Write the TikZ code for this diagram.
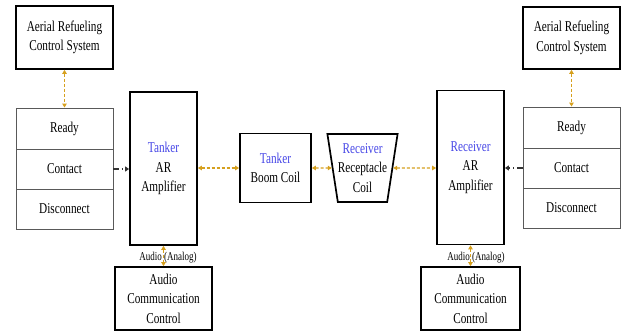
\documentclass[tikz,border=0pt]{standalone}
\usepackage{fontspec}
\setmainfont{Liberation Serif}[FakeStretch=0.75]
\usetikzlibrary{shapes.geometric,arrows.meta}
\definecolor{linkc}{RGB}{214,160,30}
\definecolor{bluec}{RGB}{70,70,230}
\tikzset{
  mainfont/.style={font=\fontsize{15}{19.5}\selectfont},
  thickbox/.style={draw, line width=1.7pt, align=center, inner sep=0pt, mainfont},
  statebox/.style={draw=black!65, line width=0.9pt, align=center, inner sep=0pt,
    minimum width=97pt, minimum height=40pt, mainfont},
  dlink/.style={draw=linkc, line width=1.2pt, dash pattern=on 3pt off 2pt,
    {Triangle[length=4pt,width=4.5pt]}-{Triangle[length=4pt,width=4.5pt]}},
  sig/.style={draw=black!80, line width=1.2pt, dash pattern=on 6pt off 2.5pt on 1.5pt off 2.5pt,
    -{Triangle[length=4pt,width=5pt]}},
  lbl/.style={font=\fontsize{12}{13}\selectfont, inner sep=0pt}
}
\begin{document}
\begin{tikzpicture}[x=1pt,y=-1pt]
\useasboundingbox (0,0) rectangle (626,331);
% left side
\node[thickbox, minimum width=97pt, minimum height=63pt] (lacs) at (64.5,37.5) {Aerial Refueling\\Control System};
\node[statebox, minimum height=41pt] (lready) at (64.5,128.5) {Ready};
\node[statebox] (lcontact) at (64.5,169) {Contact};
\node[statebox] (ldisc) at (64.5,209) {Disconnect};
\node[thickbox, minimum width=67pt, minimum height=153pt] (lamp) at (163.5,168.5) {\textcolor{bluec}{Tanker}\\AR\\Amplifier};
\node[thickbox, minimum width=71pt, minimum height=69pt] (boom) at (275.5,168) {\textcolor{bluec}{Tanker}\\Boom Coil};
\node[thickbox, minimum width=97pt, minimum height=63pt] (laud) at (163.5,298.5) {Audio\\Communication\\Control};
% centre trapezoid
\node[draw, line width=1.7pt, shape=trapezium, shape border rotate=180,
  trapezium angle=78, trapezium stretches=true, minimum width=70pt, minimum height=68pt,
  inner sep=0pt, align=center, mainfont] (rc) at (362.5,168) {\textcolor{bluec}{Receiver}\\Receptacle\\Coil};
% right side
\node[thickbox, minimum width=67pt, minimum height=154pt] (ramp) at (470.5,167.5) {\textcolor{bluec}{Receiver}\\AR\\Amplifier};
\node[thickbox, minimum width=97pt, minimum height=62pt] (racs) at (571.5,38) {Aerial Refueling\\Control System};
\node[statebox, minimum height=41pt] (rready) at (571.5,127.5) {Ready};
\node[statebox] (rcontact) at (571.5,168) {Contact};
\node[statebox] (rdisc) at (571.5,208) {Disconnect};
\node[thickbox, minimum width=99pt, minimum height=63pt] (raud) at (470.5,298.5) {Audio\\Communication\\Control};
% connectors
\draw[dlink] (lacs.south) -- (lready.north);
\draw[dlink] (racs.south) -- (rready.north);
\draw[sig] (lcontact.east) -- (lcontact.east -| lamp.west);
\draw[sig] (rcontact.west) -- (rcontact.west -| ramp.east);
\draw[dlink] (lamp.east |- boom.west) -- (boom.west);
\draw[dlink] (boom.east) -- (rc);
\draw[dlink] (rc) -- (rc -| ramp.west);
\draw[dlink] (lamp.south) -- (laud.north);
\draw[dlink] (ramp.south) -- (raud.north);
\node[lbl] (lal) at (168,258) {Audio (Analog)};
\node[lbl] (ral) at (476,258) {Audio (Analog)};
\end{tikzpicture}
\end{document}
